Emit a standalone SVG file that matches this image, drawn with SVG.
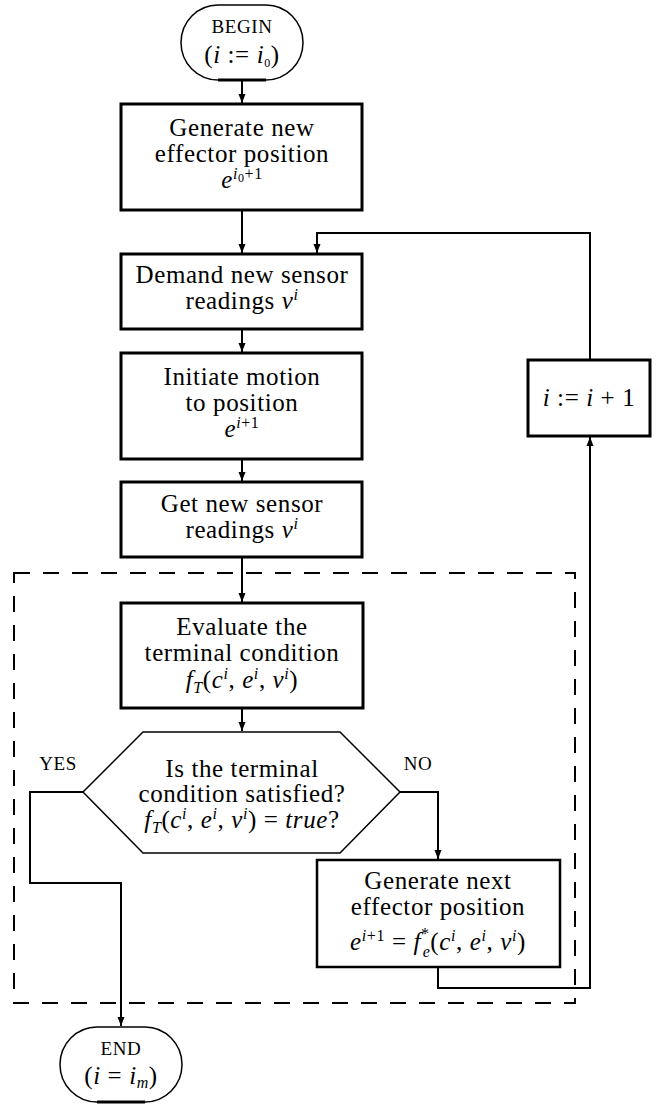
<svg xmlns="http://www.w3.org/2000/svg" width="667" height="1104" viewBox="0 0 667 1104">
<style>
.t{font-family:"Liberation Serif","Times New Roman",serif;font-size:25px;text-anchor:middle;fill:#000;letter-spacing:0.6px}
.sm{font-size:19px}
.i{font-style:italic}
.sp{font-size:16px}
.sb{font-size:16px}
.ss{font-size:12px}
.box{fill:#fff;stroke:#000;stroke-width:3}
.thin{fill:none;stroke:#000;stroke-width:1.5}
.con{fill:none;stroke:#000;stroke-width:2}
.dash{fill:none;stroke:#000;stroke-width:2;stroke-dasharray:16 13}
</style>
<defs>
<marker id="arr" markerUnits="userSpaceOnUse" markerWidth="10" markerHeight="8" refX="9" refY="4" orient="auto">
<path d="M0,0.5 L9,4 L0,7.5 z" fill="#000"/>
</marker>
</defs>

<rect id="region" class="dash" x="14" y="573" width="561" height="430"/>

<g id="begin">
<path class="thin" d="M218,5 H266 A37,37.5 0 0 1 266,80 H218 A37,37.5 0 0 1 218,5 Z" fill="#fff"/>
<line x1="218" y1="80" x2="266" y2="80" stroke="#000" stroke-width="3"/>
<text class="t"><tspan class="sm" x="242" y="33">BEGIN</tspan><tspan x="242" y="63">(<tspan class="i">i</tspan> := <tspan class="i">i</tspan><tspan class="ss" dy="4">0</tspan><tspan dy="-4">)</tspan></tspan></text>
</g>

<g id="gen-new">
<rect class="box" x="121" y="104" width="241" height="106"/>
<text class="t"><tspan x="242" y="136">Generate new</tspan><tspan x="242" y="162">effector position</tspan><tspan x="242" y="188"><tspan class="i">e</tspan><tspan class="sp i" dy="-9">i</tspan><tspan class="ss" dy="3">0</tspan><tspan class="sp" dy="-3">+1</tspan></tspan></text>
</g>

<g id="demand">
<rect class="box" x="121" y="254" width="241" height="75"/>
<text class="t"><tspan x="242" y="283">Demand new sensor</tspan><tspan x="242" y="309">readings <tspan class="i">v</tspan><tspan class="sp i" dy="-9">i</tspan></tspan></text>
</g>

<g id="initiate">
<rect class="box" x="121" y="353" width="241" height="106"/>
<text class="t"><tspan x="242" y="385">Initiate motion</tspan><tspan x="242" y="411">to position</tspan><tspan x="242" y="437"><tspan class="i">e</tspan><tspan class="sp" dy="-9"><tspan class="i">i</tspan>+1</tspan></tspan></text>
</g>

<g id="get">
<rect class="box" x="121" y="482" width="241" height="75"/>
<text class="t"><tspan x="242" y="512">Get new sensor</tspan><tspan x="242" y="538">readings <tspan class="i">v</tspan><tspan class="sp i" dy="-9">i</tspan></tspan></text>
</g>

<g id="evaluate">
<rect class="box" x="121" y="603" width="242" height="105"/>
<text class="t"><tspan x="242" y="635">Evaluate the</tspan><tspan x="242" y="661">terminal condition</tspan><tspan x="242" y="688"><tspan class="i">f</tspan><tspan class="sb i" dy="5">T</tspan><tspan dy="-5">(</tspan><tspan class="i">c</tspan><tspan class="sp i" dy="-9">i</tspan><tspan dy="9">, </tspan><tspan class="i">e</tspan><tspan class="sp i" dy="-9">i</tspan><tspan dy="9">, </tspan><tspan class="i">v</tspan><tspan class="sp i" dy="-9">i</tspan><tspan dy="9">)</tspan></tspan></text>
</g>

<g id="decision">
<polygon class="thin" fill="#fff" points="143,732 340,732 400,792 340,853 143,853 83,792"/>
<text class="t"><tspan x="242" y="777">Is the terminal</tspan><tspan x="242" y="802">condition satisfied?</tspan><tspan x="242" y="828"><tspan class="i">f</tspan><tspan class="sb i" dy="5">T</tspan><tspan dy="-5">(</tspan><tspan class="i">c</tspan><tspan class="sp i" dy="-9">i</tspan><tspan dy="9">, </tspan><tspan class="i">e</tspan><tspan class="sp i" dy="-9">i</tspan><tspan dy="9">, </tspan><tspan class="i">v</tspan><tspan class="sp i" dy="-9">i</tspan><tspan dy="9">) = </tspan><tspan class="i">true</tspan>?</tspan></text>
</g>

<g id="gen-next">
<rect class="box" style="stroke-width:2.5" x="317" y="860" width="243" height="107"/>
<text class="t"><tspan x="438" y="889">Generate next</tspan><tspan x="438" y="915">effector position</tspan><tspan x="438" y="950"><tspan class="i">e</tspan><tspan class="sp" dy="-9"><tspan class="i">i</tspan>+1</tspan><tspan dy="9"> = </tspan><tspan class="i">f</tspan><tspan class="sp" dy="-11">*</tspan><tspan class="sb i" dx="-7" dy="18">e</tspan><tspan dy="-7">(</tspan><tspan class="i">c</tspan><tspan class="sp i" dy="-9">i</tspan><tspan dy="9">, </tspan><tspan class="i">e</tspan><tspan class="sp i" dy="-9">i</tspan><tspan dy="9">, </tspan><tspan class="i">v</tspan><tspan class="sp i" dy="-9">i</tspan><tspan dy="9">)</tspan></tspan></text>
</g>

<g id="increment">
<rect class="box" x="528" y="360" width="122" height="76"/>
<text class="t" x="589" y="406"><tspan class="i">i</tspan> := <tspan class="i">i</tspan> + 1</text>
</g>

<g id="end">
<path class="thin" d="M97,1027 H145 A37,37.5 0 0 1 145,1102 H97 A37,37.5 0 0 1 97,1027 Z" fill="#fff"/>
<line x1="97" y1="1102" x2="145" y2="1102" stroke="#000" stroke-width="3"/>
<text class="t"><tspan class="sm" x="121" y="1055">END</tspan><tspan x="121" y="1084">(<tspan class="i">i</tspan> = <tspan class="i">i</tspan><tspan class="sb i" dy="4">m</tspan><tspan dy="-4">)</tspan></tspan></text>
</g>

<g id="labels">
<text class="t sm" x="58" y="770">YES</text>
<text class="t sm" x="418" y="770">NO</text>
</g>

<g id="connectors">
<path class="con" d="M242,81 V103" marker-end="url(#arr)"/>
<path class="con" d="M242,210 V253" marker-end="url(#arr)"/>
<path class="con" d="M242,329 V352" marker-end="url(#arr)"/>
<path class="con" d="M242,459 V481" marker-end="url(#arr)"/>
<path class="con" d="M242,557 V602" marker-end="url(#arr)"/>
<path class="con" d="M242,708 V731" marker-end="url(#arr)"/>
<path class="con" d="M83,792 H30 V883 H121 V1026" marker-end="url(#arr)"/>
<path class="con" d="M400,792 H438 V859" marker-end="url(#arr)"/>
<path class="con" d="M438,967 V988 H590 V437" marker-end="url(#arr)"/>
<path class="con" d="M590,360 V233 H317 V253" marker-end="url(#arr)"/>
</g>
</svg>
